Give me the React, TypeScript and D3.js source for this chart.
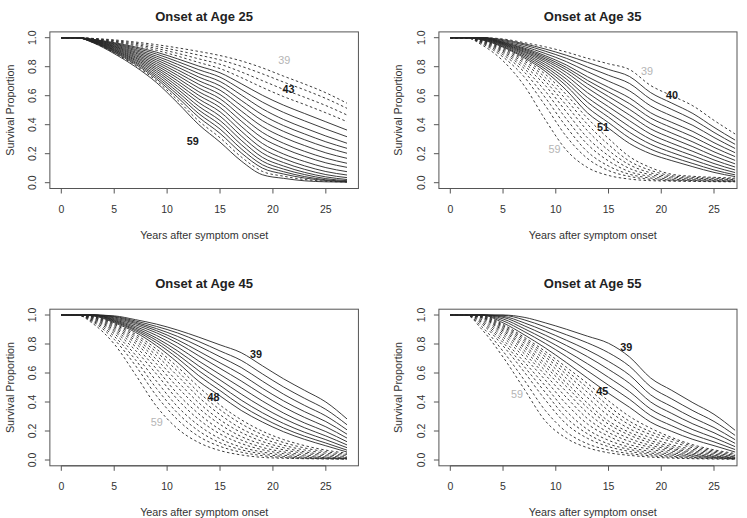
import React from "react";
import * as d3 from "d3";

// ---- data ----
const years = [0, 1.5, 3, 5, 7, 9, 11, 13, 15, 17, 19, 21, 23, 25, 27];
const cagRepeats = [39, 40, 41, 42, 43, 44, 45, 46, 47, 48, 49, 50, 51, 52, 53, 54, 55, 56, 57, 58, 59];

const xTicks = [0, 5, 10, 15, 20, 25];
const yTicks = [0, 0.2, 0.4, 0.6, 0.8, 1.0];
const yTickLabels = ["0.0", "0.2", "0.4", "0.6", "0.8", "1.0"];
const panelTitles = ["Onset at Age 25", "Onset at Age 35", "Onset at Age 45", "Onset at Age 55"];
const xAxisTitle = "Years after symptom onset";
const yAxisTitle = "Survival Proportion";

const survivalOnset25 = [
  [1, 1, 0.995, 0.985, 0.97, 0.952, 0.93, 0.905, 0.877, 0.84, 0.792, 0.735, 0.68, 0.62, 0.548],
  [1, 1, 0.994, 0.98, 0.962, 0.939, 0.911, 0.88, 0.847, 0.803, 0.751, 0.694, 0.64, 0.581, 0.513],
  [1, 1, 0.992, 0.976, 0.953, 0.926, 0.892, 0.854, 0.817, 0.764, 0.704, 0.644, 0.589, 0.532, 0.467],
  [1, 1, 0.991, 0.971, 0.945, 0.913, 0.873, 0.829, 0.787, 0.725, 0.657, 0.594, 0.539, 0.482, 0.421],
  [1, 1, 0.989, 0.966, 0.936, 0.9, 0.854, 0.804, 0.758, 0.683, 0.603, 0.535, 0.477, 0.42, 0.363],
  [1, 1, 0.988, 0.961, 0.928, 0.887, 0.835, 0.779, 0.728, 0.643, 0.556, 0.485, 0.426, 0.37, 0.317],
  [1, 1, 0.986, 0.957, 0.919, 0.873, 0.816, 0.753, 0.698, 0.605, 0.51, 0.436, 0.377, 0.322, 0.272],
  [1, 1, 0.985, 0.952, 0.911, 0.86, 0.797, 0.728, 0.668, 0.568, 0.468, 0.394, 0.336, 0.282, 0.237],
  [1, 1, 0.983, 0.947, 0.902, 0.847, 0.778, 0.703, 0.638, 0.532, 0.428, 0.354, 0.296, 0.245, 0.203],
  [1, 1, 0.982, 0.942, 0.894, 0.834, 0.759, 0.678, 0.608, 0.495, 0.387, 0.313, 0.256, 0.206, 0.168],
  [1, 1, 0.98, 0.938, 0.885, 0.821, 0.74, 0.653, 0.579, 0.459, 0.347, 0.272, 0.216, 0.169, 0.134],
  [1, 1, 0.979, 0.933, 0.877, 0.808, 0.721, 0.627, 0.549, 0.425, 0.309, 0.237, 0.182, 0.137, 0.106],
  [1, 1, 0.977, 0.928, 0.868, 0.795, 0.702, 0.602, 0.519, 0.389, 0.271, 0.198, 0.146, 0.104, 0.076],
  [1, 1, 0.976, 0.923, 0.86, 0.782, 0.683, 0.577, 0.489, 0.356, 0.236, 0.167, 0.116, 0.077, 0.053],
  [1, 1, 0.974, 0.918, 0.851, 0.769, 0.664, 0.552, 0.459, 0.323, 0.205, 0.139, 0.092, 0.056, 0.035],
  [1, 1, 0.973, 0.914, 0.843, 0.756, 0.645, 0.526, 0.429, 0.293, 0.175, 0.115, 0.071, 0.04, 0.022],
  [1, 1, 0.971, 0.909, 0.834, 0.742, 0.626, 0.501, 0.4, 0.263, 0.149, 0.094, 0.056, 0.028, 0.014],
  [1, 1, 0.97, 0.904, 0.826, 0.729, 0.607, 0.476, 0.37, 0.234, 0.124, 0.076, 0.042, 0.02, 0.009],
  [1, 1, 0.968, 0.899, 0.817, 0.716, 0.588, 0.451, 0.34, 0.206, 0.101, 0.06, 0.032, 0.015, 0.006],
  [1, 1, 0.967, 0.895, 0.809, 0.703, 0.569, 0.425, 0.31, 0.178, 0.078, 0.045, 0.022, 0.01, 0.005],
  [1, 1, 0.965, 0.89, 0.8, 0.69, 0.55, 0.4, 0.28, 0.15, 0.055, 0.03, 0.013, 0.006, 0.004],
];

const survivalOnset35 = [
  [1, 1, 1, 0.991, 0.966, 0.937, 0.901, 0.858, 0.82, 0.78, 0.67, 0.6, 0.53, 0.43, 0.336],
  [1, 1, 1, 0.986, 0.958, 0.922, 0.879, 0.83, 0.781, 0.732, 0.621, 0.549, 0.477, 0.382, 0.294],
  [1, 1, 1, 0.98, 0.95, 0.907, 0.858, 0.798, 0.741, 0.684, 0.576, 0.505, 0.436, 0.347, 0.265],
  [1, 1, 1, 0.974, 0.939, 0.891, 0.835, 0.766, 0.7, 0.633, 0.529, 0.46, 0.395, 0.312, 0.236],
  [1, 1, 1, 0.969, 0.929, 0.876, 0.812, 0.731, 0.658, 0.584, 0.482, 0.416, 0.353, 0.276, 0.207],
  [1, 1, 0.999, 0.966, 0.922, 0.865, 0.795, 0.706, 0.626, 0.545, 0.446, 0.379, 0.317, 0.244, 0.18],
  [1, 1, 0.997, 0.962, 0.915, 0.854, 0.779, 0.682, 0.594, 0.505, 0.408, 0.342, 0.281, 0.213, 0.154],
  [1, 1, 0.996, 0.959, 0.907, 0.843, 0.76, 0.653, 0.56, 0.466, 0.371, 0.307, 0.248, 0.184, 0.13],
  [1, 1, 0.994, 0.955, 0.9, 0.83, 0.738, 0.621, 0.524, 0.427, 0.335, 0.272, 0.216, 0.157, 0.108],
  [1, 1, 0.992, 0.951, 0.891, 0.815, 0.715, 0.588, 0.487, 0.386, 0.299, 0.239, 0.186, 0.132, 0.088],
  [1, 1, 0.99, 0.946, 0.882, 0.8, 0.692, 0.556, 0.452, 0.347, 0.265, 0.208, 0.158, 0.109, 0.07],
  [1, 1, 0.988, 0.94, 0.872, 0.784, 0.668, 0.52, 0.414, 0.308, 0.231, 0.178, 0.132, 0.088, 0.054],
  [1, 1, 0.985, 0.935, 0.862, 0.768, 0.638, 0.482, 0.376, 0.27, 0.199, 0.152, 0.11, 0.071, 0.042],
  [1, 1, 0.983, 0.929, 0.852, 0.748, 0.607, 0.445, 0.305, 0.179, 0.104, 0.058, 0.044, 0.037, 0.032],
  [1, 1, 0.98, 0.922, 0.84, 0.725, 0.572, 0.403, 0.263, 0.148, 0.085, 0.048, 0.037, 0.031, 0.026],
  [1, 1, 0.977, 0.914, 0.825, 0.7, 0.534, 0.359, 0.223, 0.123, 0.068, 0.04, 0.031, 0.026, 0.021],
  [1, 1, 0.973, 0.906, 0.807, 0.671, 0.489, 0.31, 0.186, 0.098, 0.055, 0.032, 0.025, 0.021, 0.017],
  [1, 1, 0.969, 0.896, 0.788, 0.632, 0.44, 0.265, 0.15, 0.076, 0.043, 0.024, 0.02, 0.016, 0.013],
  [1, 1, 0.965, 0.883, 0.764, 0.587, 0.385, 0.214, 0.115, 0.058, 0.032, 0.018, 0.015, 0.012, 0.01],
  [1, 1, 0.959, 0.867, 0.73, 0.532, 0.319, 0.167, 0.084, 0.043, 0.023, 0.014, 0.012, 0.009, 0.008],
  [1, 1, 0.95, 0.84, 0.67, 0.435, 0.225, 0.105, 0.05, 0.025, 0.014, 0.011, 0.009, 0.007, 0.006],
];

const survivalOnset45 = [
  [1, 1, 1, 0.994, 0.968, 0.937, 0.896, 0.847, 0.794, 0.74, 0.65, 0.56, 0.48, 0.4, 0.283],
  [1, 1, 1, 0.99, 0.959, 0.921, 0.876, 0.817, 0.752, 0.687, 0.594, 0.504, 0.425, 0.349, 0.243],
  [1, 1, 1, 0.986, 0.95, 0.906, 0.852, 0.785, 0.712, 0.638, 0.544, 0.454, 0.376, 0.304, 0.208],
  [1, 1, 1, 0.98, 0.942, 0.892, 0.828, 0.75, 0.67, 0.59, 0.495, 0.408, 0.333, 0.265, 0.178],
  [1, 1, 1, 0.974, 0.932, 0.877, 0.806, 0.718, 0.632, 0.545, 0.452, 0.366, 0.293, 0.229, 0.151],
  [1, 1, 1, 0.968, 0.921, 0.859, 0.779, 0.682, 0.59, 0.499, 0.407, 0.324, 0.255, 0.196, 0.126],
  [1, 1, 1, 0.963, 0.911, 0.841, 0.752, 0.648, 0.552, 0.455, 0.365, 0.287, 0.222, 0.166, 0.104],
  [1, 1, 0.998, 0.958, 0.901, 0.825, 0.727, 0.615, 0.514, 0.413, 0.326, 0.252, 0.191, 0.14, 0.085],
  [1, 1, 0.996, 0.953, 0.892, 0.808, 0.702, 0.581, 0.479, 0.376, 0.292, 0.221, 0.164, 0.117, 0.068],
  [1, 1, 0.994, 0.947, 0.881, 0.788, 0.672, 0.542, 0.442, 0.342, 0.262, 0.195, 0.142, 0.098, 0.055],
  [1, 1, 0.992, 0.941, 0.867, 0.765, 0.641, 0.503, 0.379, 0.278, 0.199, 0.141, 0.099, 0.068, 0.047],
  [1, 1, 0.989, 0.935, 0.854, 0.744, 0.612, 0.466, 0.347, 0.25, 0.175, 0.121, 0.083, 0.057, 0.039],
  [1, 1, 0.987, 0.927, 0.839, 0.72, 0.579, 0.432, 0.313, 0.217, 0.15, 0.102, 0.069, 0.047, 0.031],
  [1, 1, 0.984, 0.918, 0.823, 0.693, 0.54, 0.394, 0.277, 0.19, 0.128, 0.085, 0.056, 0.037, 0.024],
  [1, 1, 0.98, 0.909, 0.806, 0.663, 0.501, 0.357, 0.246, 0.162, 0.108, 0.07, 0.046, 0.029, 0.018],
  [1, 1, 0.975, 0.898, 0.783, 0.628, 0.455, 0.318, 0.21, 0.138, 0.087, 0.056, 0.035, 0.021, 0.014],
  [1, 1, 0.97, 0.887, 0.757, 0.592, 0.416, 0.279, 0.18, 0.114, 0.071, 0.044, 0.027, 0.016, 0.012],
  [1, 1, 0.964, 0.872, 0.725, 0.543, 0.367, 0.238, 0.147, 0.089, 0.055, 0.033, 0.019, 0.013, 0.01],
  [1, 1, 0.958, 0.853, 0.692, 0.493, 0.323, 0.2, 0.119, 0.071, 0.042, 0.024, 0.014, 0.011, 0.009],
  [1, 1, 0.951, 0.832, 0.652, 0.442, 0.277, 0.162, 0.094, 0.054, 0.03, 0.017, 0.012, 0.009, 0.007],
  [1, 1, 0.94, 0.8, 0.59, 0.37, 0.215, 0.12, 0.065, 0.035, 0.018, 0.012, 0.009, 0.007, 0.005],
];

const survivalOnset55 = [
  [1, 1, 1, 1, 0.984, 0.946, 0.902, 0.854, 0.805, 0.71, 0.565, 0.48, 0.395, 0.315, 0.205],
  [1, 1, 1, 0.998, 0.967, 0.918, 0.864, 0.808, 0.74, 0.646, 0.505, 0.421, 0.34, 0.266, 0.17],
  [1, 1, 1, 0.991, 0.946, 0.889, 0.826, 0.759, 0.68, 0.585, 0.449, 0.368, 0.291, 0.224, 0.14],
  [1, 1, 1, 0.984, 0.926, 0.861, 0.79, 0.713, 0.625, 0.528, 0.4, 0.321, 0.249, 0.188, 0.115],
  [1, 1, 1, 0.973, 0.906, 0.832, 0.751, 0.664, 0.57, 0.471, 0.351, 0.276, 0.209, 0.154, 0.092],
  [1, 1, 1, 0.96, 0.886, 0.804, 0.714, 0.615, 0.516, 0.418, 0.306, 0.236, 0.174, 0.125, 0.072],
  [1, 1, 1, 0.946, 0.864, 0.773, 0.672, 0.565, 0.46, 0.363, 0.261, 0.197, 0.142, 0.099, 0.055],
  [1, 1, 0.999, 0.935, 0.847, 0.749, 0.64, 0.528, 0.408, 0.3, 0.219, 0.155, 0.105, 0.07, 0.045],
  [1, 1, 0.996, 0.927, 0.835, 0.731, 0.616, 0.499, 0.372, 0.267, 0.195, 0.143, 0.095, 0.062, 0.038],
  [1, 1, 0.994, 0.919, 0.822, 0.712, 0.591, 0.467, 0.34, 0.242, 0.175, 0.126, 0.084, 0.054, 0.032],
  [1, 1, 0.991, 0.91, 0.807, 0.69, 0.563, 0.431, 0.306, 0.215, 0.153, 0.105, 0.073, 0.047, 0.027],
  [1, 1, 0.988, 0.9, 0.789, 0.665, 0.533, 0.392, 0.269, 0.19, 0.134, 0.092, 0.063, 0.04, 0.023],
  [1, 1, 0.985, 0.89, 0.775, 0.644, 0.507, 0.361, 0.247, 0.171, 0.118, 0.08, 0.054, 0.034, 0.019],
  [1, 1, 0.982, 0.878, 0.755, 0.617, 0.472, 0.325, 0.218, 0.148, 0.101, 0.072, 0.046, 0.029, 0.016],
  [1, 1, 0.977, 0.864, 0.734, 0.587, 0.432, 0.286, 0.19, 0.128, 0.087, 0.061, 0.039, 0.025, 0.014],
  [1, 1, 0.968, 0.848, 0.709, 0.552, 0.386, 0.249, 0.164, 0.106, 0.073, 0.05, 0.033, 0.021, 0.012],
  [1, 1, 0.958, 0.829, 0.677, 0.511, 0.337, 0.211, 0.136, 0.088, 0.059, 0.041, 0.029, 0.018, 0.01],
  [1, 1, 0.948, 0.81, 0.645, 0.467, 0.291, 0.181, 0.111, 0.073, 0.048, 0.034, 0.023, 0.016, 0.009],
  [1, 1, 0.937, 0.787, 0.608, 0.415, 0.248, 0.15, 0.092, 0.059, 0.039, 0.026, 0.018, 0.013, 0.008],
  [1, 1, 0.919, 0.75, 0.552, 0.342, 0.194, 0.112, 0.069, 0.044, 0.029, 0.019, 0.013, 0.009, 0.007],
  [1, 1, 0.9, 0.71, 0.49, 0.27, 0.15, 0.085, 0.05, 0.032, 0.02, 0.013, 0.009, 0.007, 0.005],
];

// CAG repeat curves drawn dashed in each panel
const dashedOnset25 = [39, 40, 41, 42, 58];
const dashedOnset35 = [39, 52, 53, 54, 55, 56, 57, 58, 59];
const dashedOnset45 = [49, 50, 51, 52, 53, 54, 55, 56, 57, 58, 59];
const dashedOnset55 = [46, 47, 48, 49, 50, 51, 52, 53, 54, 55, 56, 57, 58, 59];

// curve annotations: [text, year, survival, bold]
const labelsOnset25: [string, number, number, boolean][] = [
  ["39", 21.06, 0.846, false],
  ["43", 21.47, 0.644, true],
  ["59", 12.42, 0.287, true],
];
const labelsOnset35: [string, number, number, boolean][] = [
  ["39", 18.65, 0.77, false],
  ["40", 21.02, 0.605, true],
  ["51", 14.48, 0.384, true],
  ["59", 9.89, 0.232, false],
];
const labelsOnset45: [string, number, number, boolean][] = [
  ["39", 18.41, 0.731, true],
  ["48", 14.38, 0.437, true],
  ["59", 9.02, 0.26, false],
];
const labelsOnset55: [string, number, number, boolean][] = [
  ["39", 16.69, 0.777, true],
  ["45", 14.41, 0.478, true],
  ["59", 6.32, 0.455, false],
];

// ---- layout ----
const FONT = "'Liberation Sans', Arial, Helvetica, sans-serif";
const W = 747;
const H = 518;

const panelLayouts = [
  { x0: 61.3, x27: 347.0, y0: 182.7, y1: 37.7, titleY: 16, yTitleX: 9.5, boxRight: 0 },
  { x0: 450.3, x27: 735.1, y0: 182.7, y1: 37.7, titleY: 16, yTitleX: 398, boxRight: 737 },
  { x0: 61.3, x27: 347.0, y0: 460, y1: 315, titleY: 283, yTitleX: 9.5, boxRight: 0 },
  { x0: 450.3, x27: 735.1, y0: 460, y1: 315, titleY: 283, yTitleX: 398, boxRight: 737 },
];

const panelData = [survivalOnset25, survivalOnset35, survivalOnset45, survivalOnset55];
const panelDashed = [dashedOnset25, dashedOnset35, dashedOnset45, dashedOnset55];
const panelLabels = [labelsOnset25, labelsOnset35, labelsOnset45, labelsOnset55];

function Panel({ idx }: { idx: number }) {
  const L = panelLayouts[idx];
  const data = panelData[idx];
  const dashed = panelDashed[idx];
  const labels = panelLabels[idx];
  const x = d3.scaleLinear().domain([0, 27]).range([L.x0, L.x27]);
  const y = d3.scaleLinear().domain([0, 1]).range([L.y0, L.y1]);
  const line = d3
    .line<number>()
    .x((_, i) => x(years[i]))
    .y((d) => y(d))
    .curve(d3.curveMonotoneX);

  const left = x(-1.08);
  const fullRight = x(28.08);
  const right = L.boxRight || fullRight;
  const top = y(1.04);
  const bottom = y(-0.04);
  const cx = (left + fullRight) / 2;
  const cy = (top + bottom) / 2;

  return (
    <g>
      {data.map((row, k) => (
        <path
          key={k}
          d={line(row) || ""}
          fill="none"
          stroke="#262626"
          strokeWidth={0.9}
          strokeDasharray={dashed.includes(cagRepeats[k]) ? "2.5,2.5" : undefined}
        />
      ))}
      <rect x={left} y={top} width={right - left} height={bottom - top} fill="none" stroke="#555" strokeWidth={1} />
      {/* x axis */}
      <line x1={x(xTicks[0])} x2={x(xTicks[xTicks.length - 1])} y1={bottom} y2={bottom} stroke="#555" />
      {xTicks.map((t) => (
        <g key={"xt" + t}>
          <line x1={x(t)} x2={x(t)} y1={bottom} y2={bottom + 5} stroke="#555" />
          <text x={x(t)} y={bottom + 20.5} textAnchor="middle" dominantBaseline="central" fontSize={10.5} fill="#333" fontFamily={FONT}>
            {t}
          </text>
        </g>
      ))}
      {/* y axis */}
      {yTicks.map((v, i) => (
        <g key={"yt" + i}>
          <line x1={left} x2={left - 5} y1={y(v)} y2={y(v)} stroke="#555" />
          <text
            transform={`translate(${left - 18},${y(v)}) rotate(-90)`}
            textAnchor="middle"
            dominantBaseline="central"
            fontSize={10.5}
            fill="#333"
            fontFamily={FONT}
          >
            {yTickLabels[i]}
          </text>
        </g>
      ))}
      <text x={cx} y={bottom + 46.5} textAnchor="middle" dominantBaseline="central" fontSize={10.8} fill="#333" fontFamily={FONT}>
        {xAxisTitle}
      </text>
      <text
        transform={`translate(${L.yTitleX},${cy}) rotate(-90)`}
        textAnchor="middle"
        dominantBaseline="central"
        fontSize={10.8}
        fill="#333"
        fontFamily={FONT}
      >
        {yAxisTitle}
      </text>
      <text x={cx} y={L.titleY} textAnchor="middle" dominantBaseline="central" fontSize={13} fontWeight="bold" fill="#222" fontFamily={FONT}>
        {panelTitles[idx]}
      </text>
      {labels.map(([txt, t, v, bold], i) => (
        <text
          key={"lb" + i}
          x={x(t)}
          y={y(v)}
          textAnchor="middle"
          dominantBaseline="central"
          fontSize={10.8}
          fontWeight={bold ? "bold" : "normal"}
          fill={bold ? "#1a1a1a" : "#b5b5b5"}
          fontFamily={FONT}
        >
          {txt}
        </text>
      ))}
    </g>
  );
}

export default function App() {
  return (
    <div style={{ position: "absolute", left: 0, top: 0 }}>
      <svg width={W} height={H} viewBox={`0 0 ${W} ${H}`} style={{ display: "block", background: "#fff" }}>
        {[0, 1, 2, 3].map((i) => (
          <Panel key={i} idx={i} />
        ))}
      </svg>
    </div>
  );
}
